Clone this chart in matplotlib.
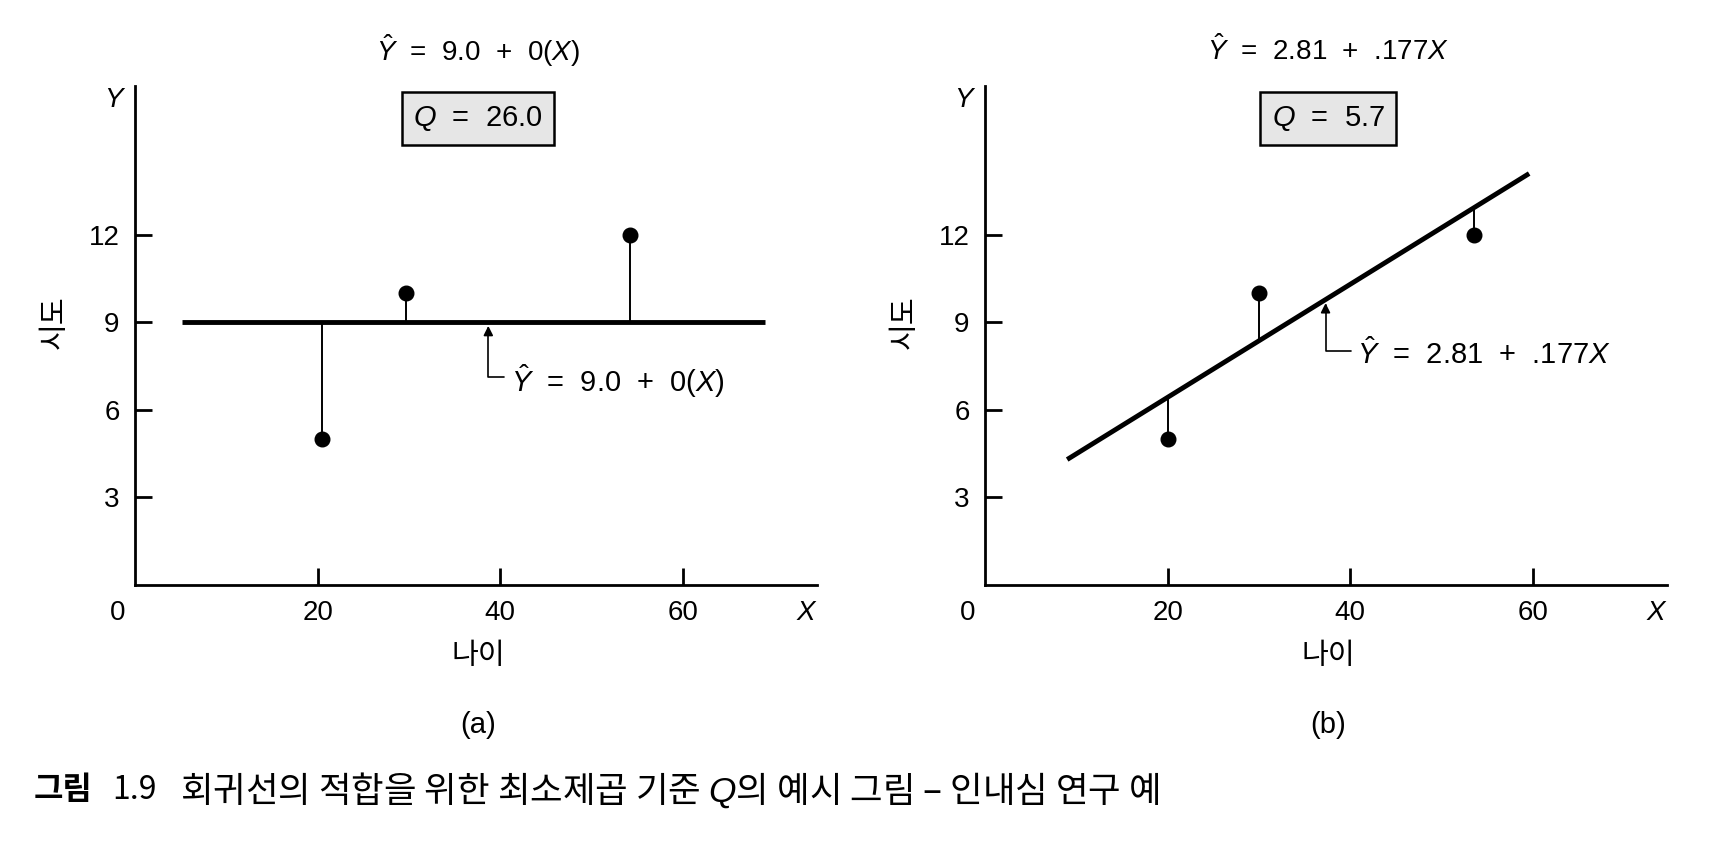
import matplotlib
matplotlib.use("Agg")
import matplotlib.pyplot as plt
import numpy as np
from matplotlib import font_manager

have = {f.name for f in font_manager.fontManager.ttflist}
num_font = 'Liberation Sans Narrow' if 'Liberation Sans Narrow' in have else 'Liberation Sans'
kr_font = 'Noto Sans CJK KR'

plt.rcParams['font.family'] = [num_font, kr_font, 'DejaVu Sans']
plt.rcParams['mathtext.fontset'] = 'custom'
plt.rcParams['mathtext.it'] = num_font + ':italic'
plt.rcParams['mathtext.rm'] = num_font

# data
age_a = [20.5, 29.7, 54.2]
score_a = [5, 10, 12]
fit_a_x = [5.2, 69.0]
fit_a_y = [9.0, 9.0]

age_b = [20.0, 30.0, 53.6]
score_b = [5, 10, 12]
fit_b_x = [9.0, 59.6]
fit_b_y = [4.3, 14.1]

x_ticks = [20, 40, 60]
y_ticks = [3, 6, 9, 12]

eq_a = r'$\hat{Y}$  =  9.0  +  0($X$)'
eq_b = r'$\hat{Y}$  =  2.81  +  .177$X$'
q_a = r'$Q$  =  26.0'
q_b = r'$Q$  =  5.7'

W, H = 1735, 850
fig = plt.figure(figsize=(W / 100, H / 100), dpi=100)
fig.patch.set_facecolor('white')

panels = [
    dict(left=135, age=age_a, score=score_a, fx=fit_a_x, fy=fit_a_y,
         eq=eq_a, q=q_a, tag='(a)', tip_x=38.7, txt=(41.2, 7.0)),
    dict(left=985, age=age_b, score=score_b, fx=fit_b_x, fy=fit_b_y,
         eq=eq_b, q=q_b, tag='(b)', tip_x=37.3, txt=(40.8, 7.9)),
]

top, bottom = 86, 585
for p in panels:
    ax = fig.add_axes([p['left'] / W, (H - bottom) / H, 682 / W, (bottom - top) / H])
    ax.set_xlim(0, 74.7)
    ax.set_ylim(0, 17.1)
    for s in ['top', 'right']:
        ax.spines[s].set_visible(False)
    for s in ['left', 'bottom']:
        ax.spines[s].set_linewidth(2)
    ax.set_xticks(x_ticks)
    ax.set_yticks(y_ticks)
    ax.tick_params(direction='in', length=12, width=2, labelsize=20, pad=11)

    # fitted line
    ax.plot(p['fx'], p['fy'], color='black', lw=3.5, solid_capstyle='butt')
    # residuals
    fitted = np.interp(p['age'], p['fx'], p['fy'])
    ax.vlines(p['age'], p['score'], fitted, color='black', lw=1.4)
    ax.plot(p['age'], p['score'], 'o', color='black', ms=10.5)

    # arrow to the line
    tip_y = np.interp(p['tip_x'], p['fx'], p['fy'])
    ax.annotate(p['eq'], xy=(p['tip_x'], tip_y - 0.12), xytext=p['txt'],
                fontsize=21, ha='left', va='center',
                arrowprops=dict(arrowstyle='-|>', color='black', lw=1.2,
                                mutation_scale=14, shrinkA=3, shrinkB=0,
                                relpos=(0, 0.6),
                                connectionstyle='angle,angleA=0,angleB=90,rad=0'))

    ax.text(0.503, 1.07, p['eq'], transform=ax.transAxes, fontsize=20,
            ha='center', va='center')
    ax.text(0.503, 0.935, p['q'], transform=ax.transAxes, fontsize=21,
            ha='center', va='center',
            bbox=dict(boxstyle='square,pad=0.4', fc='#e6e6e6', ec='black', lw=1.8))
    ax.text(-0.031, 0.972, 'Y', transform=ax.transAxes, fontsize=20,
            style='italic', ha='center', va='center')
    ax.text(0.983, -0.056, 'X', transform=ax.transAxes, fontsize=20,
            style='italic', ha='center', va='center')
    ax.text(-0.025, -0.056, '0', transform=ax.transAxes, fontsize=20,
            ha='center', va='center')
    ax.text(-0.117, 0.527, '시도', transform=ax.transAxes, fontsize=21,
            family=kr_font, rotation=90, ha='center', va='center')
    ax.text(0.503, -0.142, '나이', transform=ax.transAxes, fontsize=21,
            family=kr_font, ha='center', va='center')
    ax.text(0.503, -0.281, p['tag'], transform=ax.transAxes, fontsize=21,
            ha='center', va='center')

# caption
cap_y = 1 - 790 / H
fig.text(34 / W, cap_y, '그림', fontsize=23, family=kr_font,
         weight='bold', ha='left', va='center')
fig.text(112 / W, cap_y, '1.9', fontsize=23, family=kr_font,
         ha='left', va='center')
fig.text(180 / W, cap_y, '회귀선의 적합을 위한 최소제곱 기준 $Q$의 예시 그림 – 인내심 연구 예',
         fontsize=25.5, family=kr_font, ha='left', va='center')

fig.savefig('out.png', dpi=100, facecolor='white')
